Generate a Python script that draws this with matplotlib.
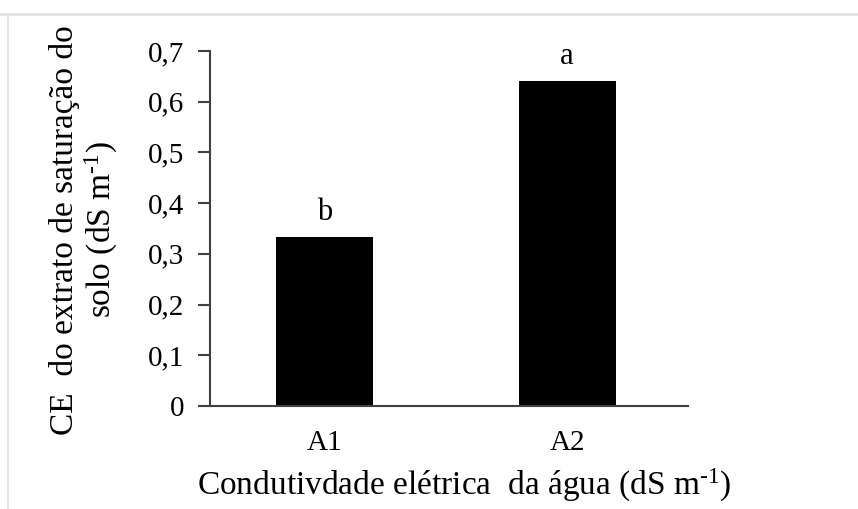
import matplotlib
matplotlib.use("Agg")
import matplotlib.pyplot as plt
from matplotlib.lines import Line2D

plt.rcParams['font.family'] = ['Liberation Serif', 'DejaVu Serif']
plt.rcParams['mathtext.fontset'] = 'custom'
plt.rcParams['mathtext.rm'] = 'Liberation Serif'
plt.rcParams['mathtext.it'] = 'Liberation Serif:italic'

categories = ["A1", "A2"]
values = [0.333, 0.641]
letters = ["b", "a"]
yticks = [0, 0.1, 0.2, 0.3, 0.4, 0.5, 0.6, 0.7]
ytick_labels = ["0", "0,1", "0,2", "0,3", "0,4", "0,5", "0,6", "0,7"]

fig = plt.figure(figsize=(8.58, 5.09), dpi=100)
ax = fig.add_axes([0.2448, 0.2024, 0.5571, 0.6974])

x = list(range(len(categories)))
bars = ax.bar(x, values, width=0.4, color="black")
for xi, v, l in zip(x, values, letters):
    ax.annotate(l, (xi, v), xytext=(0, 7), textcoords="offset points",
                ha="center", va="bottom", fontsize=22)

ax.set_xlim(-0.472, 1.499)
ax.set_ylim(0, 0.7)
ax.set_yticks(yticks)
ax.set_yticklabels(ytick_labels, fontsize=21)
ax.set_xticks(x)
ax.set_xticklabels(categories, fontsize=21)
ax.tick_params(axis="x", length=0, pad=17)
ax.tick_params(axis="y", length=8.5, width=1.5, color="#404040", pad=10, direction="out")
for s in ["top", "right"]:
    ax.spines[s].set_visible(False)
for s in ["left", "bottom"]:
    ax.spines[s].set_linewidth(1.5)
    ax.spines[s].set_color("#404040")

ax.set_xlabel("Condutivdade elétrica  da água (dS m$^{\\text{-1}}$)", fontsize=24)
ax.xaxis.set_label_coords(0.531, -0.172)
fig.text(0.098, 0.548, "CE  do extrato de saturação do\nsolo (dS m$^{\\text{-1}}$)",
         rotation=90, ha="center", va="center", fontsize=24, linespacing=1.1, multialignment="center")

# light frame lines
fig.add_artist(Line2D([0, 1], [1 - 14/509, 1 - 14/509], color="#e2e2e2", lw=2, transform=fig.transFigure))
fig.add_artist(Line2D([8/858, 8/858], [0, 1 - 14/509], color="#e8e8e8", lw=1.5, transform=fig.transFigure))

fig.savefig("out.png", dpi=100)
